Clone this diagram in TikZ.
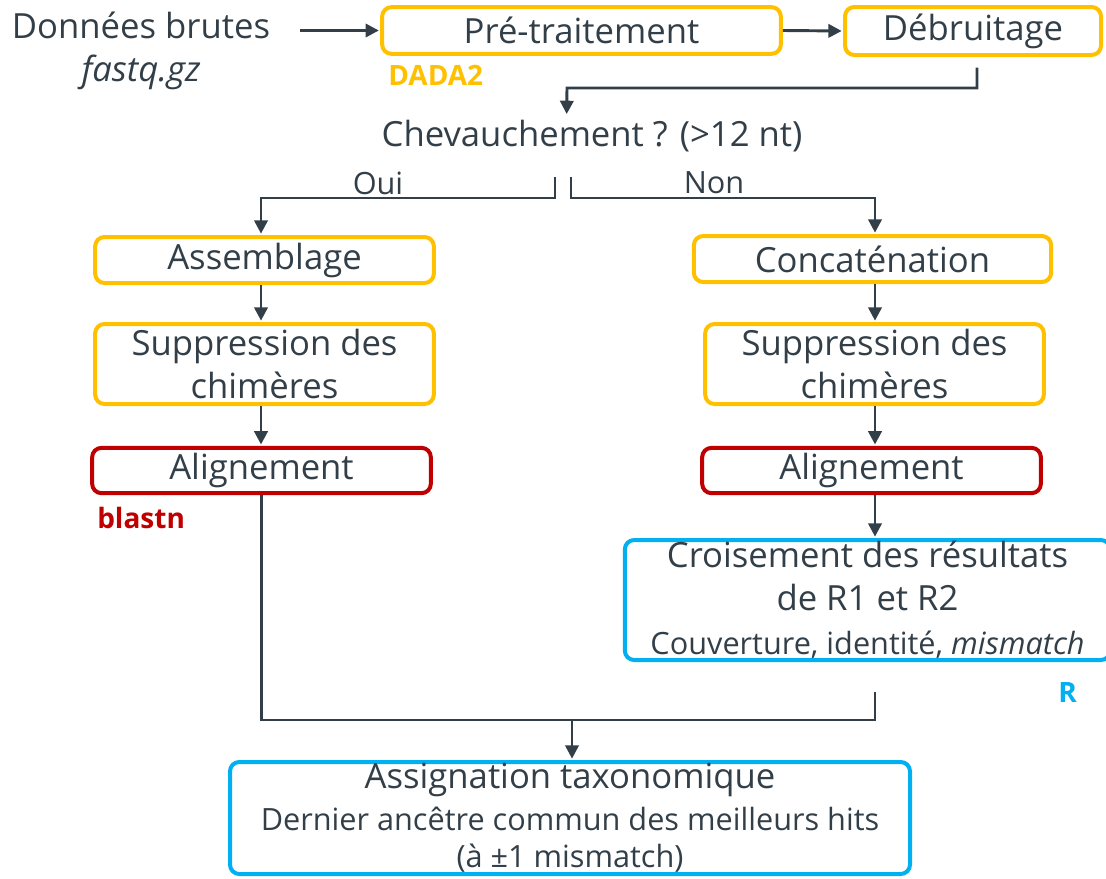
\documentclass[tikz,border=0pt]{standalone}
\usepackage{fontspec}
\setmainfont{Open Sans}
\usetikzlibrary{arrows.meta,positioning}
\definecolor{jaune}{HTML}{FFC000}
\definecolor{rouge}{HTML}{C00000}
\definecolor{bleu}{HTML}{00B0F0}
\definecolor{ardoise}{HTML}{333F48}

\begin{document}
\begin{tikzpicture}[x=0.75pt,y=-0.75pt,
  boite/.style={draw,line width=3pt,rounded corners=7pt,align=center,inner sep=0pt,text=ardoise},
  grand/.style={font=\fontsize{26}{32}\selectfont},
  petit/.style={font=\fontsize{23}{28}\selectfont},
  etiq/.style={font=\fontsize{21}{24}\selectfont\bfseries,anchor=west,inner sep=0pt},
  trait/.style={draw=ardoise,line width=2.2pt},
  fleche/.style={trait,-{Triangle[length=10pt,width=10pt]},shorten >=1pt}]
\useasboundingbox (0,0) rectangle (1106,878);

% entree
\node[grand,text=ardoise,align=center] (donnees) at (141,51) {Donn\'ees brutes\\\textit{fastq.gz}};

% DADA2
\node[boite,grand,draw=jaune,minimum width=299pt,minimum height=35pt] (pretrait) at (581.5,30.5) {Pr\'e-traitement};
\node[boite,grand,draw=jaune,minimum width=192pt,minimum height=36pt] (debruit) at (973,31) {D\'ebruitage};
\node[etiq,text=jaune] (dada) at (388,75) {DADA2};

\node[grand,text=ardoise] (chev) at (592,136) {Chevauchement ? (>12 nt)};

% branche Oui
\node[boite,grand,draw=jaune,minimum width=254pt,minimum height=34.5pt] (assemb) at (264.5,260) {Assemblage};
\node[boite,grand,draw=jaune,minimum width=254pt,minimum height=60pt] (suppG) at (264.5,364) {Suppression des\\chim\`eres};
\node[boite,grand,draw=rouge,minimum width=254pt,minimum height=34pt] (alignG) at (261.5,470.5) {Alignement};
\node[etiq,text=rouge] (blastn) at (97,518) {blastn};

% branche Non
\node[boite,grand,draw=jaune,minimum width=268pt,minimum height=34.5pt] (concat) at (872.5,259) {Concat\'enation};
\node[boite,grand,draw=jaune,minimum width=254pt,minimum height=60pt] (suppD) at (874.5,364) {Suppression des\\chim\`eres};
\node[boite,grand,draw=rouge,minimum width=254pt,minimum height=34pt] (alignD) at (871.5,470.5) {Alignement};
\node[boite,grand,draw=bleu,minimum width=364pt,minimum height=90pt] (crois) at (867.5,600)
  {Croisement des r\'esultats\\de R1 et R2\\[1pt]{\fontsize{23}{28}\selectfont Couverture, identit\'e, \textit{mismatch}}};
\node[etiq,text=bleu] (rlab) at (1058,692) {R};

% assignation
\node[boite,grand,draw=bleu,minimum width=510pt,minimum height=84pt] (assign) at (570,818)
  {Assignation taxonomique\\[-1pt]{\fontsize{23}{28}\selectfont Dernier anc\^etre commun des meilleurs hits}\\[-4pt]{\fontsize{23}{28}\selectfont (\`a \textpm1 mismatch)}};

\node[petit,text=ardoise] (oui) at (378,183) {Oui};
\node[petit,text=ardoise] (non) at (714,183) {Non};

\coordinate (dep) at (300,32);
\coordinate (dOui) at (555,177);
\coordinate (dNon) at (571,177);
\coordinate (finD) at (875,692);
\coordinate (jonction) at (572,720);

% connecteurs
\draw[fleche] (dep |- pretrait.west) -- (pretrait.west);
\draw[fleche] (pretrait.east) -- (debruit.west);
\draw[fleche] ([xshift=3pt,yshift=-8pt]debruit.south) |- (567,88) -- ([xshift=-19pt]chev.north);
\draw[fleche] (dOui) |- (261,198) -- (assemb.north -| 261,0);
\draw[fleche] (dNon) |- (875,198) -- (concat.north -| 875,0);
\draw[fleche] (assemb.south -| 261,0) -- (suppG.north -| 261,0);
\draw[fleche] (suppG.south -| 261,0) -- (alignG.north -| 261,0);
\draw[fleche] (concat.south -| 875,0) -- (suppD.north -| 875,0);
\draw[fleche] (suppD.south -| 875,0) -- (alignD.north -| 875,0);
\draw[fleche] (alignD.south -| 875,0) -- (crois.north -| 875,0);
\draw[trait] (alignG.south) |- (jonction) -| (finD);
\draw[fleche] (jonction) -- (assign.north -| jonction);

\end{tikzpicture}
\end{document}
